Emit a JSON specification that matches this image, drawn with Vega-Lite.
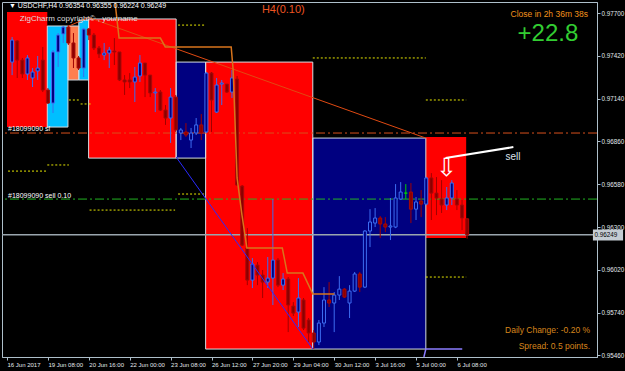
{
  "$schema": "https://vega.github.io/schema/vega-lite/v6.json",
  "width": 595,
  "height": 355,
  "autosize": {"type": "none"},
  "padding": {"left": 2, "top": 2, "right": 28, "bottom": 14},
  "background": "#000000",
  "config": {"view": {"stroke": "#aebfca", "strokeWidth": 1}, "font": "Liberation Sans", "axis": {"grid": false}},
  "datasets": {
    "zones": [
      {"id": "A", "kind": "red", "i1": 0, "i2": 7.88, "p1": 0.97707, "p2": 0.96954},
      {"id": "B", "kind": "cyan", "i1": 7.88, "i2": 11.92, "p1": 0.97615, "p2": 0.96954},
      {"id": "C", "kind": "coral", "i1": 11.92, "i2": 14.04, "p1": 0.97615, "p2": 0.97262},
      {"id": "D", "kind": "cyan", "i1": 14.04, "i2": 15.96, "p1": 0.97654, "p2": 0.97262},
      {"id": "E", "kind": "red", "i1": 15.96, "i2": 33.08, "p1": 0.97661, "p2": 0.96751},
      {"id": "F", "kind": "navy", "i1": 33.08, "i2": 38.85, "p1": 0.97379, "p2": 0.96751},
      {"id": "G", "kind": "red", "i1": 38.85, "i2": 59.81, "p1": 0.97379, "p2": 0.95502},
      {"id": "H", "kind": "navy", "i1": 59.81, "i2": 81.92, "p1": 0.96882, "p2": 0.95502},
      {"id": "I", "kind": "red", "i1": 81.92, "i2": 89.81, "p1": 0.96889, "p2": 0.96228}
    ],
    "candles": [
      {"i":1,"o":0.97379,"h":0.97543,"l":0.97294,"c":0.97523},
      {"i":2,"o":0.97517,"h":0.97523,"l":0.97275,"c":0.97392},
      {"i":3,"o":0.97392,"h":0.97406,"l":0.97275,"c":0.97301},
      {"i":4,"o":0.97301,"h":0.97425,"l":0.97262,"c":0.97406},
      {"i":5,"o":0.97275,"h":0.97340,"l":0.97216,"c":0.97314},
      {"i":6,"o":0.97321,"h":0.97419,"l":0.97262,"c":0.97340},
      {"i":7,"o":0.97392,"h":0.97478,"l":0.97183,"c":0.97196},
      {"i":8,"o":0.97196,"h":0.97209,"l":0.97105,"c":0.97111},
      {"i":9,"o":0.97111,"h":0.97458,"l":0.97046,"c":0.97445},
      {"i":10,"o":0.97445,"h":0.97569,"l":0.97347,"c":0.97556},
      {"i":11,"o":0.97563,"h":0.97615,"l":0.97504,"c":0.97608},
      {"i":12,"o":0.97608,"h":0.97621,"l":0.97491,"c":0.97504},
      {"i":13,"o":0.97504,"h":0.97569,"l":0.97340,"c":0.97406},
      {"i":14,"o":0.97406,"h":0.97419,"l":0.97327,"c":0.97340},
      {"i":15,"o":0.97340,"h":0.97602,"l":0.97281,"c":0.97595},
      {"i":16,"o":0.97595,"h":0.97602,"l":0.97523,"c":0.97556},
      {"i":17,"o":0.97556,"h":0.97569,"l":0.97458,"c":0.97471},
      {"i":18,"o":0.97471,"h":0.97484,"l":0.97406,"c":0.97432},
      {"i":19,"o":0.97425,"h":0.97504,"l":0.97392,"c":0.97438},
      {"i":20,"o":0.97438,"h":0.97478,"l":0.97340,"c":0.97458},
      {"i":21,"o":0.97451,"h":0.97536,"l":0.97360,"c":0.97445},
      {"i":22,"o":0.97445,"h":0.97445,"l":0.97255,"c":0.97262},
      {"i":23,"o":0.97262,"h":0.97294,"l":0.97164,"c":0.97249},
      {"i":24,"o":0.97262,"h":0.97307,"l":0.97209,"c":0.97249},
      {"i":25,"o":0.97249,"h":0.97347,"l":0.97118,"c":0.97281},
      {"i":26,"o":0.97288,"h":0.97425,"l":0.97249,"c":0.97373},
      {"i":27,"o":0.97373,"h":0.97373,"l":0.97150,"c":0.97294},
      {"i":28,"o":0.97294,"h":0.97294,"l":0.97150,"c":0.97177},
      {"i":29,"o":0.97177,"h":0.97209,"l":0.97052,"c":0.97183},
      {"i":30,"o":0.97183,"h":0.97196,"l":0.97059,"c":0.97065},
      {"i":31,"o":0.97065,"h":0.97098,"l":0.96968,"c":0.97013},
      {"i":32,"o":0.97013,"h":0.97209,"l":0.96850,"c":0.97150},
      {"i":33,"o":0.97150,"h":0.97164,"l":0.96922,"c":0.96935},
      {"i":34,"o":0.96915,"h":0.96948,"l":0.96869,"c":0.96935},
      {"i":35,"o":0.96922,"h":0.96980,"l":0.96889,"c":0.96902},
      {"i":36,"o":0.96869,"h":0.96948,"l":0.96817,"c":0.96915},
      {"i":37,"o":0.96915,"h":0.97013,"l":0.96902,"c":0.96968},
      {"i":38,"o":0.96968,"h":0.97039,"l":0.96869,"c":0.96915},
      {"i":39,"o":0.96922,"h":0.97314,"l":0.96915,"c":0.97307},
      {"i":40,"o":0.97307,"h":0.97314,"l":0.96922,"c":0.97131},
      {"i":41,"o":0.97052,"h":0.97275,"l":0.97046,"c":0.97229},
      {"i":42,"o":0.97235,"h":0.97262,"l":0.97098,"c":0.97242},
      {"i":43,"o":0.97235,"h":0.97235,"l":0.97177,"c":0.97183},
      {"i":44,"o":0.97183,"h":0.97327,"l":0.97144,"c":0.97275},
      {"i":45,"o":0.97268,"h":0.97288,"l":0.96568,"c":0.96575},
      {"i":46,"o":0.96568,"h":0.96575,"l":0.96176,"c":0.96182},
      {"i":47,"o":0.96163,"h":0.96293,"l":0.95920,"c":0.95953},
      {"i":48,"o":0.95953,"h":0.96097,"l":0.95901,"c":0.96058},
      {"i":49,"o":0.96051,"h":0.96071,"l":0.95920,"c":0.95986},
      {"i":50,"o":0.95986,"h":0.96019,"l":0.95836,"c":0.95940},
      {"i":51,"o":0.95940,"h":0.96104,"l":0.95901,"c":0.95966},
      {"i":52,"o":0.95966,"h":0.96483,"l":0.95790,"c":0.96084},
      {"i":53,"o":0.96084,"h":0.96097,"l":0.95907,"c":0.95920},
      {"i":54,"o":0.95920,"h":0.95999,"l":0.95888,"c":0.95960},
      {"i":55,"o":0.95960,"h":0.95973,"l":0.95613,"c":0.95790},
      {"i":56,"o":0.95783,"h":0.95809,"l":0.95718,"c":0.95737},
      {"i":57,"o":0.95744,"h":0.95966,"l":0.95646,"c":0.95836},
      {"i":58,"o":0.95823,"h":0.95836,"l":0.95626,"c":0.95639},
      {"i":59,"o":0.95692,"h":0.95705,"l":0.95548,"c":0.95607},
      {"i":60,"o":0.95607,"h":0.95626,"l":0.95502,"c":0.95548},
      {"i":61,"o":0.95548,"h":0.95692,"l":0.95528,"c":0.95672},
      {"i":62,"o":0.95672,"h":0.95907,"l":0.95646,"c":0.95823},
      {"i":63,"o":0.95823,"h":0.95940,"l":0.95777,"c":0.95803},
      {"i":64,"o":0.95803,"h":0.95875,"l":0.95613,"c":0.95855},
      {"i":65,"o":0.95855,"h":0.95979,"l":0.95823,"c":0.95894},
      {"i":66,"o":0.95894,"h":0.95901,"l":0.95836,"c":0.95842},
      {"i":67,"o":0.95803,"h":0.95920,"l":0.95705,"c":0.95881},
      {"i":68,"o":0.95881,"h":0.96006,"l":0.95875,"c":0.95993},
      {"i":69,"o":0.95993,"h":0.96006,"l":0.95875,"c":0.95907},
      {"i":70,"o":0.95907,"h":0.96280,"l":0.95901,"c":0.96274},
      {"i":71,"o":0.96274,"h":0.96417,"l":0.96169,"c":0.96333},
      {"i":72,"o":0.96326,"h":0.96424,"l":0.96300,"c":0.96359},
      {"i":73,"o":0.96359,"h":0.96372,"l":0.96228,"c":0.96320},
      {"i":74,"o":0.96320,"h":0.96365,"l":0.96267,"c":0.96300},
      {"i":75,"o":0.96300,"h":0.96490,"l":0.96215,"c":0.96307},
      {"i":76,"o":0.96300,"h":0.96581,"l":0.96293,"c":0.96490},
      {"i":77,"o":0.96483,"h":0.96594,"l":0.96477,"c":0.96529},
      {"i":78,"o":0.96522,"h":0.96581,"l":0.96483,"c":0.96522},
      {"i":79,"o":0.96529,"h":0.96588,"l":0.96326,"c":0.96417},
      {"i":80,"o":0.96417,"h":0.96496,"l":0.96346,"c":0.96464},
      {"i":81,"o":0.96470,"h":0.96542,"l":0.96365,"c":0.96450},
      {"i":82,"o":0.96450,"h":0.96627,"l":0.96444,"c":0.96621},
      {"i":83,"o":0.96621,"h":0.96653,"l":0.96346,"c":0.96522},
      {"i":84,"o":0.96522,"h":0.96627,"l":0.96378,"c":0.96490},
      {"i":85,"o":0.96483,"h":0.96607,"l":0.96392,"c":0.96444},
      {"i":86,"o":0.96444,"h":0.96562,"l":0.96411,"c":0.96490},
      {"i":87,"o":0.96490,"h":0.96607,"l":0.96444,"c":0.96588},
      {"i":88,"o":0.96483,"h":0.96542,"l":0.96411,"c":0.96444},
      {"i":89,"o":0.96444,"h":0.96477,"l":0.96280,"c":0.96359},
      {"i":90,"o":0.96354,"h":0.96355,"l":0.96224,"c":0.96249}
    ]
  },
  "layer": [
    {
      "data": {"name": "zones"},
      "mark": {"type": "rect"},
      "encoding": {
        "x": {"field": "i1", "type": "quantitative", "title": null,
          "scale": {"domain": [0, 114.42], "nice": false, "zero": false},
          "axis": {"values": [0, 8, 16, 24, 32, 40, 48, 56, 64, 72, 80, 88],
            "labelExpr": "['16 Jun 2017','19 Jun 08:00','20 Jun 16:00','22 Jun 00:00','23 Jun 08:00','26 Jun 12:00','27 Jun 20:00','29 Jun 04:00','30 Jun 12:00','3 Jul 16:00','5 Jul 00:00','6 Jul 08:00'][datum.value / 8]",
            "labelAlign": "left", "labelDx": 1, "labelFontSize": 6, "labelColor": "#e2e8ec", "labelFont": "Liberation Sans",
            "tickSize": 3, "labelPadding": 1, "domainColor": "#aebfca", "tickColor": "#aebfca", "labelOverlap": false, "labelFlush": false}},
        "x2": {"field": "i2"},
        "y": {"field": "p1", "type": "quantitative", "title": null,
          "scale": {"domain": [0.9545, 0.97772], "nice": false, "zero": false},
          "axis": {"orient": "right", "values": [0.977, 0.9756, 0.9742, 0.9728, 0.9714, 0.97, 0.9686, 0.9672, 0.9658, 0.9644, 0.963, 0.9616, 0.9602, 0.9588, 0.9574, 0.956, 0.9546],
            "format": ".5f", "labelFontSize": 6.3, "labelColor": "#e2e8ec", "labelFont": "Liberation Sans",
            "tickSize": 3, "labelPadding": 1, "domainColor": "#aebfca", "tickColor": "#aebfca", "labelOverlap": false, "labelFlush": false}},
        "y2": {"field": "p2"},
        "fill": {"condition": [
          {"test": "datum.kind === 'cyan'", "value": "#00bfff"},
          {"test": "datum.kind === 'coral'", "value": "#ff7f50"},
          {"test": "datum.kind === 'navy'", "value": "#000080"}
        ], "value": "#ff0000"}
      }
    },
    {
      "data": {"name": "zones"},
      "transform": [{"filter": "datum.id !== 'A' && datum.id !== 'I'"}],
      "mark": {"type": "rect", "fillOpacity": 0, "stroke": "#d4dce2", "strokeWidth": 1},
      "encoding": {
        "x": {"field": "i1", "type": "quantitative", "title": null},
        "x2": {"field": "i2"},
        "y": {"field": "p1", "type": "quantitative", "title": null},
        "y2": {"field": "p2"}
      }
    },
    {
      "data": {"values": [
        {"i1": 33.46, "i2": 38.85, "p": 0.97621},
        {"i1": 12.1, "i2": 14.04, "p": 0.97131},
        {"i1": 14.4, "i2": 16.35, "p": 0.97105},
        {"i1": 59.81, "i2": 81.92, "p": 0.97406},
        {"i1": 81.92, "i2": 89.81, "p": 0.97131},
        {"i1": 7.88, "i2": 12.1, "p": 0.96706},
        {"i1": 0.2, "i2": 7.88, "p": 0.96666},
        {"i1": 33.46, "i2": 38.85, "p": 0.96516},
        {"i1": 16.15, "i2": 32.88, "p": 0.96411},
        {"i1": 81.92, "i2": 89.81, "p": 0.95973}
      ]},
      "mark": {"type": "rule", "color": "#e6e600", "strokeWidth": 1, "strokeDash": [2, 2]},
      "encoding": {
        "x": {"field": "i1", "type": "quantitative", "title": null},
        "x2": {"field": "i2"},
        "y": {"field": "p", "type": "quantitative", "title": null}
      }
    },
    {
      "data": {"values": [
        {"name": "stop", "p": 0.96915},
        {"name": "entry", "p": 0.96483}
      ]},
      "mark": {"type": "rule", "strokeWidth": 1, "strokeDash": [9, 3, 2, 3]},
      "encoding": {
        "y": {"field": "p", "type": "quantitative", "title": null},
        "color": {"condition": {"test": "datum.name === 'entry'", "value": "#22b422"}, "value": "#d8501c"}
      }
    },
    {
      "data": {"values": [{"p": 0.96249}]},
      "mark": {"type": "rule", "color": "#9aa6ae", "strokeWidth": 1.5},
      "encoding": {"y": {"field": "p", "type": "quantitative", "title": null}}
    },
    {
      "data": {"values": [
        {"i": 12.12, "p": 0.97615},
        {"i": 15.96, "p": 0.97671},
        {"i": 81.92, "p": 0.96882}
      ]},
      "mark": {"type": "line", "color": "#e04a12", "strokeWidth": 1},
      "encoding": {
        "x": {"field": "i", "type": "quantitative", "title": null},
        "y": {"field": "p", "type": "quantitative", "title": null}
      }
    },
    {
      "data": {"name": "candles"},
      "mark": {"type": "rule", "strokeWidth": 1},
      "encoding": {
        "x": {"field": "i", "type": "quantitative", "title": null},
        "y": {"field": "l", "type": "quantitative", "title": null},
        "y2": {"field": "h"},
        "color": {"condition": [
          {"test": "datum.c === datum.o", "value": "#00d000"},
          {"test": "datum.c > datum.o", "value": "#3c6cf0"}
        ], "value": "#a00000"}
      }
    },
    {
      "data": {"name": "candles"},
      "mark": {"type": "bar", "width": 3, "strokeWidth": 1},
      "encoding": {
        "x": {"field": "i", "type": "quantitative", "title": null},
        "y": {"field": "o", "type": "quantitative", "title": null},
        "y2": {"field": "c"},
        "fill": {"condition": {"test": "datum.c > datum.o", "value": "#000080"}, "value": "#8b0000"},
        "stroke": {"condition": [
          {"test": "datum.c === datum.o", "value": "#00d000"},
          {"test": "datum.c > datum.o", "value": "#3c6cf0"}
        ], "value": "#a80808"}
      }
    },
    {
      "data": {"values": [
        {"i": 21.15, "p": 0.97765},
        {"i": 21.92, "p": 0.97536},
        {"i": 30.0, "p": 0.97536},
        {"i": 30.96, "p": 0.97478},
        {"i": 43.85, "p": 0.97478},
        {"i": 44.23, "p": 0.97327},
        {"i": 45.0, "p": 0.96621},
        {"i": 45.96, "p": 0.96378},
        {"i": 46.92, "p": 0.96163},
        {"i": 53.85, "p": 0.96163},
        {"i": 54.81, "p": 0.95999},
        {"i": 57.88, "p": 0.95999},
        {"i": 59.81, "p": 0.95862},
        {"i": 64.04, "p": 0.95862}
      ]},
      "mark": {"type": "line", "color": "#d8741c", "strokeWidth": 1.5},
      "encoding": {
        "x": {"field": "i", "type": "quantitative", "title": null},
        "y": {"field": "p", "type": "quantitative", "title": null}
      }
    },
    {
      "data": {"values": [
        {"i": 33.08, "p": 0.96758},
        {"i": 59.81, "p": 0.95502}
      ]},
      "mark": {"type": "line", "color": "#2a2aff", "strokeWidth": 1},
      "encoding": {
        "x": {"field": "i", "type": "quantitative", "title": null},
        "y": {"field": "p", "type": "quantitative", "title": null}
      }
    },
    {
      "data": {"values": [
        {"i": 81.54, "p": 0.9545},
        {"i": 81.92, "p": 0.95502},
        {"i": 89.04, "p": 0.95502}
      ]},
      "mark": {"type": "line", "color": "#8a7cff", "strokeWidth": 1.5},
      "encoding": {
        "x": {"field": "i", "type": "quantitative", "title": null},
        "y": {"field": "p", "type": "quantitative", "title": null}
      }
    },
    {
      "data": {"values": [
        {"i": 85.77, "p": 0.96751},
        {"i": 99.04, "p": 0.96823}
      ]},
      "mark": {"type": "line", "color": "#ffffff", "strokeWidth": 2},
      "encoding": {
        "x": {"field": "i", "type": "quantitative", "title": null},
        "y": {"field": "p", "type": "quantitative", "title": null}
      }
    },
    {
      "data": {"values": [
        {"t": "▼ USDCHF,H4  0.96354 0.96355 0.96224 0.96249", "i": 0.38, "p": 0.97746},
        {"t": "#18099090 sl", "i": 0.2, "p": 0.96941},
        {"t": "#18099090 sell 0.10", "i": 0.2, "p": 0.96503}
      ]},
      "mark": {"type": "text", "align": "left", "baseline": "middle", "fontSize": 7, "color": "#ffffff"},
      "encoding": {
        "x": {"field": "i", "type": "quantitative", "title": null},
        "y": {"field": "p", "type": "quantitative", "title": null},
        "text": {"field": "t"}
      }
    },
    {
      "data": {"values": [{"t": "ZigCharm copyright© , yourname", "i": 2.5, "p": 0.97661}]},
      "mark": {"type": "text", "align": "left", "baseline": "middle", "fontSize": 8, "color": "#dedede"},
      "encoding": {
        "x": {"field": "i", "type": "quantitative", "title": null},
        "y": {"field": "p", "type": "quantitative", "title": null},
        "text": {"field": "t"}
      }
    },
    {
      "data": {"values": [{"t": "H4(0.10)", "i": 54.04, "p": 0.9772}]},
      "mark": {"type": "text", "align": "center", "baseline": "middle", "fontSize": 11, "color": "#ee5522"},
      "encoding": {
        "x": {"field": "i", "type": "quantitative", "title": null},
        "y": {"field": "p", "type": "quantitative", "title": null},
        "text": {"field": "t"}
      }
    },
    {
      "data": {"values": [{"t": "Close in 2h 36m 38s", "i": 113.65, "p": 0.97693}]},
      "mark": {"type": "text", "align": "right", "baseline": "middle", "fontSize": 8.5, "color": "#f0921c"},
      "encoding": {
        "x": {"field": "i", "type": "quantitative", "title": null},
        "y": {"field": "p", "type": "quantitative", "title": null},
        "text": {"field": "t"}
      }
    },
    {
      "data": {"values": [{"t": "+22.8", "i": 111.73, "p": 0.97562}]},
      "mark": {"type": "text", "align": "right", "baseline": "middle", "fontSize": 24, "color": "#32cd32"},
      "encoding": {
        "x": {"field": "i", "type": "quantitative", "title": null},
        "y": {"field": "p", "type": "quantitative", "title": null},
        "text": {"field": "t"}
      }
    },
    {
      "data": {"values": [
        {"t": "Daily Change: -0.20 %", "i": 114.04, "p": 0.95626},
        {"t": "Spread: 0.5 points.", "i": 114.04, "p": 0.95521}
      ]},
      "mark": {"type": "text", "align": "right", "baseline": "middle", "fontSize": 8.5, "color": "#d8861c"},
      "encoding": {
        "x": {"field": "i", "type": "quantitative", "title": null},
        "y": {"field": "p", "type": "quantitative", "title": null},
        "text": {"field": "t"}
      }
    },
    {
      "data": {"values": [{"t": "sell", "i": 97.5, "p": 0.96758}]},
      "mark": {"type": "text", "align": "left", "baseline": "middle", "fontSize": 10, "color": "#dde4ee"},
      "encoding": {
        "x": {"field": "i", "type": "quantitative", "title": null},
        "y": {"field": "p", "type": "quantitative", "title": null},
        "text": {"field": "t"}
      }
    },
    {
      "data": {"values": [{"t": "⇩", "i": 85.96, "p": 0.96686}]},
      "mark": {"type": "text", "align": "center", "baseline": "middle", "fontSize": 25, "font": "DejaVu Sans", "color": "#ffffff"},
      "encoding": {
        "x": {"field": "i", "type": "quantitative", "title": null},
        "y": {"field": "p", "type": "quantitative", "title": null},
        "text": {"field": "t"}
      }
    },
    {
      "data": {"values": [{"i1": 114.6, "i2": 120.5, "p1": 0.96284, "p2": 0.96212}]},
      "mark": {"type": "rect", "color": "#c4ccd2"},
      "encoding": {
        "x": {"field": "i1", "type": "quantitative", "title": null},
        "x2": {"field": "i2"},
        "y": {"field": "p1", "type": "quantitative", "title": null},
        "y2": {"field": "p2"}
      }
    },
    {
      "data": {"values": [{"t": "0.96249", "i": 114.9, "p": 0.96249}]},
      "mark": {"type": "text", "align": "left", "baseline": "middle", "fontSize": 6.3, "color": "#000000"},
      "encoding": {
        "x": {"field": "i", "type": "quantitative", "title": null},
        "y": {"field": "p", "type": "quantitative", "title": null},
        "text": {"field": "t"}
      }
    }
  ]
}
